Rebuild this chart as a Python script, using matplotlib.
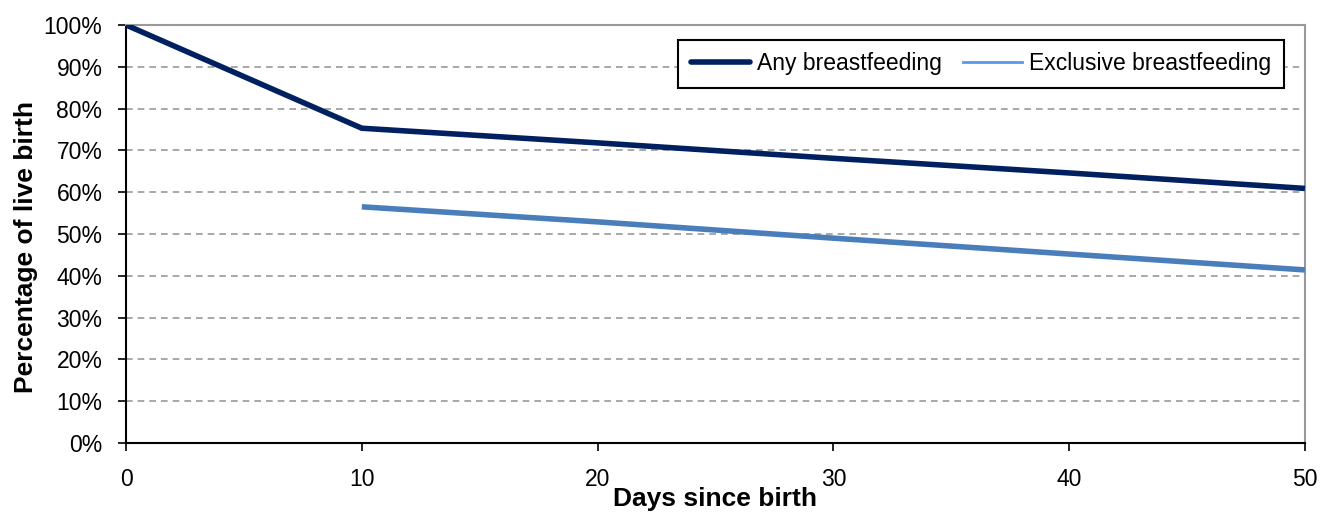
import matplotlib
matplotlib.use('Agg')
import matplotlib.pyplot as plt
from matplotlib.ticker import PercentFormatter

plt.rcParams['font.family'] = ['Liberation Sans', 'DejaVu Sans']

# Data
days_any = [0, 10, 20, 30, 40, 50]
any_bf = [100, 75.3, 71.8, 68.1, 64.6, 60.9]

days_excl = [10, 20, 30, 40, 50]
excl_bf = [56.5, 52.9, 49.0, 45.2, 41.4]

fig = plt.figure(figsize=(13.24, 5.13), dpi=100)
ax = fig.add_axes([0.0952, 0.1365, 0.8904, 0.8148])

ax.plot(days_any, any_bf, color='#002060', lw=4, solid_capstyle='butt', zorder=3)
ax.plot(days_excl, excl_bf, color='#4a7ebb', lw=4, solid_capstyle='butt', zorder=3)

# legend handles (lighter, thinner line for the exclusive series as in the original)
h1, = ax.plot([], [], color='#002060', lw=4, solid_capstyle='round')
h2, = ax.plot([], [], color='#5599ee', lw=2)
leg = ax.legend([h1, h2], ['Any breastfeeding', 'Exclusive breastfeeding'],
                loc='upper right', bbox_to_anchor=(0.982, 0.965), ncol=2, fontsize=16.5,
                frameon=True, fancybox=False, edgecolor='black', framealpha=1,
                handlelength=2.6, handletextpad=0.3, columnspacing=0.9,
                borderpad=0.55, borderaxespad=0)
leg.get_frame().set_linewidth(1.5)

ax.set_xlim(0, 50)
ax.set_ylim(0, 100)
ax.set_xticks([0, 10, 20, 30, 40, 50])
ax.set_yticks(range(0, 101, 10))
ax.yaxis.set_major_formatter(PercentFormatter(decimals=0))
ax.tick_params(direction='out', length=6, width=1.2, labelsize=16.5)
ax.tick_params(axis='y', pad=11)
ax.tick_params(axis='x', pad=12)
ax.yaxis.grid(True, color='#999999', linestyle=(0, (4, 3)), lw=1.2)
ax.set_axisbelow(True)

for s in ['left', 'bottom']:
    ax.spines[s].set_color('black')
    ax.spines[s].set_linewidth(1.5)
for s in ['top', 'right']:
    ax.spines[s].set_color('#999999')
    ax.spines[s].set_linewidth(1.5)

ax.set_ylabel('Percentage of live birth', fontsize=19, fontweight='bold')
ax.yaxis.set_label_coords(-0.075, 0.469)
ax.set_xlabel('Days since birth', fontsize=19, fontweight='bold', labelpad=-3)

fig.savefig('out.png', dpi=100)
